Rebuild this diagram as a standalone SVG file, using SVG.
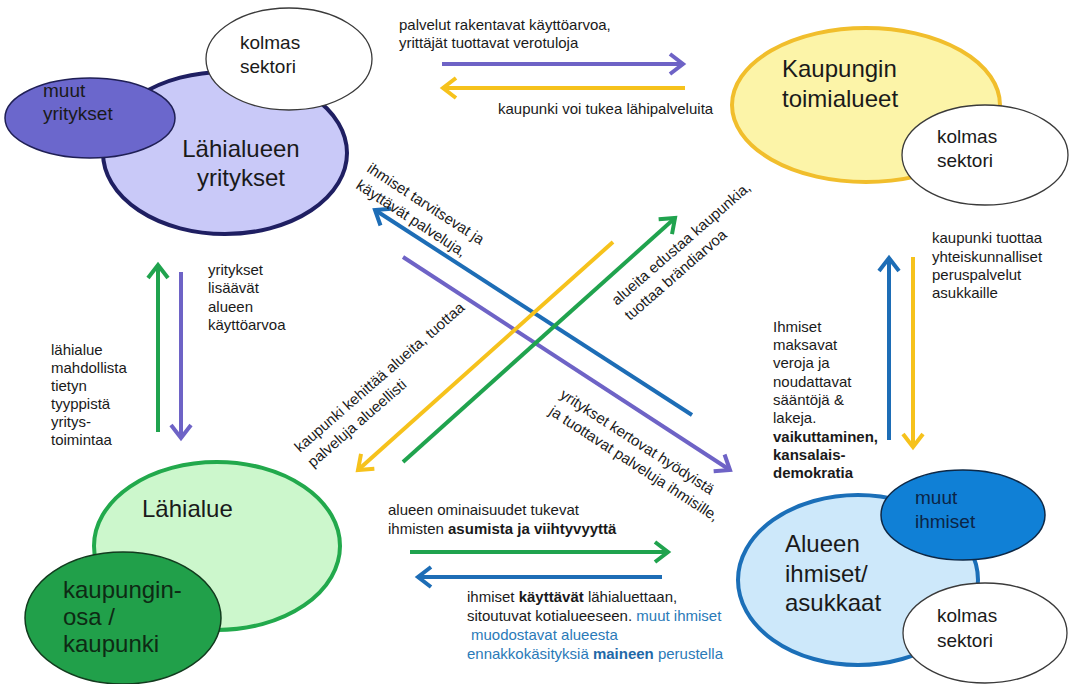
<svg xmlns="http://www.w3.org/2000/svg" width="1076" height="684" viewBox="0 0 1076 684">
<defs>
<style>
text{font-family:"Liberation Sans",Arial,"DejaVu Sans",sans-serif;fill:#1a1a1a}
.big{font-size:24px}
.mid{font-size:19px}
.lbl{font-size:15px}
.b{font-weight:bold}
.bl{fill:#2a7ab8}
.conn{fill:none;stroke-width:4}
.white{fill:#ffffff;stroke:#3a3a3a;stroke-width:1.3}
</style>
<marker id="ah-purple" viewBox="-17 -13 22 26" refX="0" refY="0" markerWidth="22" markerHeight="26" markerUnits="userSpaceOnUse" orient="auto"><path d="M-13,-10 L0,0 L-13,10" fill="none" stroke="#6e63c6" stroke-width="4"/></marker>
<marker id="ah-yellow" viewBox="-17 -13 22 26" refX="0" refY="0" markerWidth="22" markerHeight="26" markerUnits="userSpaceOnUse" orient="auto"><path d="M-13,-10 L0,0 L-13,10" fill="none" stroke="#f6c21c" stroke-width="4"/></marker>
<marker id="ah-green" viewBox="-17 -13 22 26" refX="0" refY="0" markerWidth="22" markerHeight="26" markerUnits="userSpaceOnUse" orient="auto"><path d="M-13,-10 L0,0 L-13,10" fill="none" stroke="#20a34e" stroke-width="4"/></marker>
<marker id="ah-blue" viewBox="-17 -13 22 26" refX="0" refY="0" markerWidth="22" markerHeight="26" markerUnits="userSpaceOnUse" orient="auto"><path d="M-13,-10 L0,0 L-13,10" fill="none" stroke="#1d6db6" stroke-width="4"/></marker>
</defs>
<rect width="1076" height="684" fill="#ffffff"/>

<g id="n-lahialueen-yritykset">
<ellipse cx="225" cy="153" rx="122" ry="81" fill="#c9c9f8" stroke="#1f1f62" stroke-width="4"/>
<text class="big" x="241" y="157" text-anchor="middle">Lähialueen</text>
<text class="big" x="241" y="186" text-anchor="middle">yritykset</text>
</g>
<g id="n-muut-yritykset">
<ellipse cx="90" cy="118" rx="85" ry="40" fill="#6b67cc" stroke="#1f1f55" stroke-width="1.5"/>
<text class="mid" x="43" y="97">muut</text>
<text class="mid" x="43" y="120">yritykset</text>
</g>
<g id="n-kolmas-1">
<ellipse class="white" cx="289" cy="59" rx="83" ry="51"/>
<text class="mid" x="240" y="49">kolmas</text>
<text class="mid" x="240" y="73">sektori</text>
</g>

<g id="n-kaupungin-toimialueet">
<ellipse cx="866" cy="105" rx="134" ry="77" fill="#fcf4a8" stroke="#f1be2c" stroke-width="4"/>
<text class="big" x="782" y="77">Kaupungin</text>
<text class="big" x="782" y="107">toimialueet</text>
</g>
<g id="n-kolmas-2">
<ellipse class="white" cx="985" cy="155" rx="83" ry="50"/>
<text class="mid" x="937" y="143">kolmas</text>
<text class="mid" x="937" y="167">sektori</text>
</g>

<g id="n-lahialue">
<ellipse cx="217" cy="546" rx="123" ry="84" fill="#ccf7cc" stroke="#22a94c" stroke-width="4"/>
<text class="big" x="142" y="517">Lähialue</text>
</g>
<g id="n-kaupunginosa">
<ellipse cx="123" cy="618" rx="98" ry="66" fill="#21a04a" stroke="#123b1e" stroke-width="1.5"/>
<text class="big" x="63" y="598" style="fill:#0e2a14">kaupungin-</text>
<text class="big" x="63" y="625" style="fill:#0e2a14">osa /</text>
<text class="big" x="63" y="652" style="fill:#0e2a14">kaupunki</text>
</g>

<g id="n-alueen-ihmiset">
<ellipse cx="858" cy="580" rx="120" ry="85" fill="#cde8fa" stroke="#1b6fb8" stroke-width="4"/>
<text class="big" x="785" y="552">Alueen</text>
<text class="big" x="785" y="582">ihmiset/</text>
<text class="big" x="785" y="611">asukkaat</text>
</g>
<g id="n-muut-ihmiset">
<ellipse cx="963" cy="515" rx="82" ry="45" fill="#1080d6" stroke="#0d2846" stroke-width="1.5"/>
<text class="mid" x="915" y="504" style="fill:#0b2547">muut</text>
<text class="mid" x="915" y="528" style="fill:#0b2547">ihmiset</text>
</g>
<g id="n-kolmas-3">
<ellipse class="white" cx="985" cy="633" rx="82" ry="50"/>
<text class="mid" x="937" y="622">kolmas</text>
<text class="mid" x="937" y="647">sektori</text>
</g>

<g id="connectors">
<path class="conn" stroke="#6e63c6" d="M442,64 L683,64" marker-end="url(#ah-purple)"/>
<path class="conn" stroke="#f6c21c" d="M685,88 L443,88" marker-end="url(#ah-yellow)"/>
<path class="conn" stroke="#20a34e" d="M158,432 L158,265" marker-end="url(#ah-green)"/>
<path class="conn" stroke="#6e63c6" d="M181,272 L181,438" marker-end="url(#ah-purple)"/>
<path class="conn" stroke="#1d6db6" d="M889,440 L889,258" marker-end="url(#ah-blue)"/>
<path class="conn" stroke="#f6c21c" d="M913,257 L913,447" marker-end="url(#ah-yellow)"/>
<path class="conn" stroke="#20a34e" d="M410,552 L668,552" marker-end="url(#ah-green)"/>
<path class="conn" stroke="#1d6db6" d="M662,577 L418,577" marker-end="url(#ah-blue)"/>
<path class="conn" stroke="#1d6db6" d="M692,415 L375,210" marker-end="url(#ah-blue)"/>
<path class="conn" stroke="#6e63c6" d="M403,257 L730,470" marker-end="url(#ah-purple)"/>
<path class="conn" stroke="#f6c21c" d="M613,242 L358,470" marker-end="url(#ah-yellow)"/>
<path class="conn" stroke="#20a34e" d="M403,462 L675,218" marker-end="url(#ah-green)"/>
</g>

<g id="labels" class="lbl">
<text class="lbl" x="399" y="30">palvelut rakentavat käyttöarvoa,</text>
<text class="lbl" x="399" y="48">yrittäjät tuottavat verotuloja</text>
<text class="lbl" x="498" y="114">kaupunki voi tukea lähipalveluita</text>

<text class="lbl" x="208" y="275">yritykset</text>
<text class="lbl" x="208" y="293">lisäävät</text>
<text class="lbl" x="208" y="312">alueen</text>
<text class="lbl" x="208" y="330">käyttöarvoa</text>

<text class="lbl" x="51" y="355">lähialue</text>
<text class="lbl" x="51" y="373">mahdollista</text>
<text class="lbl" x="51" y="391">tietyn</text>
<text class="lbl" x="51" y="409">tyyppistä</text>
<text class="lbl" x="51" y="427">yritys-</text>
<text class="lbl" x="51" y="445">toimintaa</text>

<text class="lbl" x="932" y="243">kaupunki tuottaa</text>
<text class="lbl" x="932" y="262">yhteiskunnalliset</text>
<text class="lbl" x="932" y="280">peruspalvelut</text>
<text class="lbl" x="932" y="298">asukkaille</text>

<text class="lbl" x="773" y="332">Ihmiset</text>
<text class="lbl" x="773" y="350">maksavat</text>
<text class="lbl" x="773" y="368">veroja ja</text>
<text class="lbl" x="773" y="387">noudattavat</text>
<text class="lbl" x="773" y="405">sääntöjä &amp;</text>
<text class="lbl" x="773" y="423">lakeja.</text>
<text class="lbl b" x="773" y="442">vaikuttaminen,</text>
<text class="lbl b" x="773" y="460">kansalais-</text>
<text class="lbl b" x="773" y="478">demokratia</text>

<text class="lbl" x="388" y="515">alueen ominaisuudet tukevat</text>
<text class="lbl" x="388" y="534">ihmisten <tspan class="b">asumista ja viihtyvyyttä</tspan></text>

<text class="lbl" x="467" y="602">ihmiset <tspan class="b">käyttävät</tspan> lähialuettaan,</text>
<text class="lbl" x="467" y="621">sitoutuvat kotialueeseen.<tspan class="bl"> muut ihmiset</tspan></text>
<text class="lbl bl" x="471" y="640">muodostavat alueesta</text>
<text class="lbl bl" x="467" y="659">ennakkokäsityksiä <tspan class="b" style="fill:#1f69a8">maineen</tspan> perustella</text>

<g transform="translate(366,171) rotate(33)">
<text class="lbl" x="0" y="0">ihmiset tarvitsevat ja</text>
<text class="lbl" x="0" y="20">käyttävät palveluja,</text>
</g>
<g transform="translate(559,397) rotate(33)">
<text class="lbl" x="0" y="0">yritykset kertovat hyödyistä</text>
<text class="lbl" x="0" y="20">ja tuottavat palveluja ihmisille,</text>
</g>
<g transform="translate(617,306) rotate(-41)">
<text class="lbl" x="0" y="0">alueita edustaa kaupunkia,</text>
<text class="lbl" x="0" y="20">tuottaa brändiarvoa</text>
</g>
<g transform="translate(300,453) rotate(-41)">
<text class="lbl" x="0" y="0">kaupunki kehittää alueita, tuottaa</text>
<text class="lbl" x="0" y="20">palveluja alueellisti</text>
</g>
</g>
</svg>
